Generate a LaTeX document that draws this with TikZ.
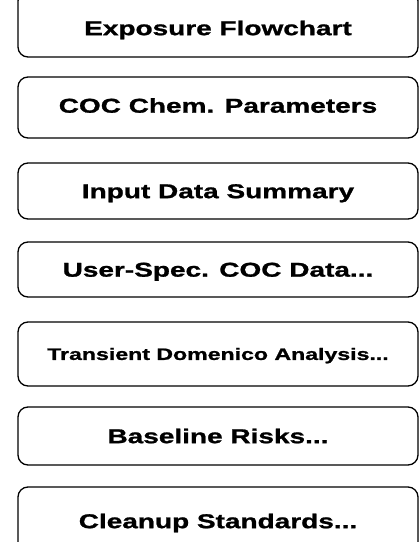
\documentclass[tikz,border=0pt]{standalone}
\usepackage{fontspec}
\setmainfont{Liberation Sans}[FakeStretch=1.4, BoldFeatures={FakeBold=1.2}]
\begin{document}
\begin{tikzpicture}[x=1pt,y=1pt,
  btn/.style={draw=black, line width=1.3pt, rounded corners=10pt, minimum width=400pt,
    inner sep=0pt, text height=14.3pt, text depth=0pt,
    font=\bfseries\fontsize{20}{23}\selectfont},
  small/.style={font=\bfseries\fontsize{16.5}{19}\selectfont, text height=11.8pt}]
\useasboundingbox (0,0) rectangle (420,-542);
\node[btn, minimum height=66pt, text height=22.3pt] (b1) at (218,-24) {Exposure Flowchart};
\node[btn, minimum height=61pt, text height=10.3pt] (b2) at (218,-107.5) {COC Chem. Parameters};
\node[btn, minimum height=56pt] (b3) at (218,-191) {Input Data Summary};
\node[btn, minimum height=55pt] (b4) at (218,-269.5) {User-Spec. COC Data...};
\node[btn, small, minimum height=64pt] (b5) at (218,-354) {Transient Domenico Analysis...};
\node[btn, minimum height=58pt] (b6) at (218,-436) {Baseline Risks...};
\node[btn, minimum height=76pt, text depth=8pt] (b7) at (218,-525) {Cleanup Standards...};
\end{tikzpicture}
\end{document}
